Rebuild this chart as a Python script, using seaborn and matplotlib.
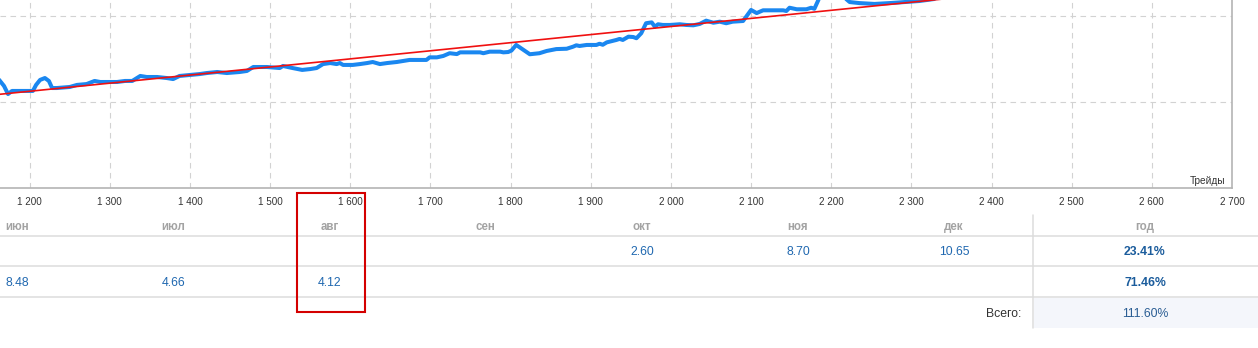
import matplotlib
matplotlib.use("Agg")
import matplotlib.pyplot as plt
import seaborn as sns
import pandas as pd
from matplotlib.lines import Line2D
from matplotlib.patches import Rectangle
from matplotlib.ticker import FuncFormatter

# ---------------- data ----------------
trades = [1157, 1163, 1168, 1173, 1178, 1188, 1204, 1208, 1213, 1219, 1224, 1228, 1234, 1250,
          1259, 1271, 1281, 1288, 1309, 1319, 1328, 1338, 1346, 1359, 1371, 1379, 1387, 1400,
          1412, 1421, 1434, 1446, 1462, 1471, 1479, 1496, 1512, 1516, 1528, 1540, 1550, 1558,
          1566, 1575, 1583, 1587, 1591, 1603, 1612, 1621, 1628, 1637, 1646, 1658, 1666, 1674,
          1687, 1695, 1699, 1708, 1716, 1724, 1733, 1737, 1762, 1766, 1774, 1787, 1791, 1797,
          1801, 1807, 1816, 1824, 1836, 1845, 1857, 1870, 1878, 1882, 1886, 1895, 1907, 1911,
          1915, 1920, 1932, 1936, 1940, 1947, 1953, 1957, 1963, 1969, 1976, 1980, 1984, 1990,
          1999, 2011, 2019, 2028, 2036, 2044, 2053, 2061, 2069, 2077, 2090, 2100, 2107, 2115,
          2140, 2144, 2148, 2157, 2169, 2175, 2179, 2184, 2188, 2204, 2217, 2223, 2235, 2254,
          2273, 2292, 2310, 2329, 2348, 2385, 2410, 2429, 2448, 2472]
balance = [65.8, 62.3, 59.4, 54.7, 56.5, 56.5, 56.5, 60.0, 62.9, 64.0, 62.3, 58.2, 58.2, 58.8,
           60.0, 60.5, 62.3, 61.7, 61.7, 62.3, 62.3, 65.2, 64.6, 64.6, 64.0, 63.4, 65.2, 65.8,
           66.3, 66.9, 67.5, 66.9, 67.5, 68.1, 70.4, 70.4, 69.8, 71.0, 69.8, 68.7, 69.2, 69.8,
           72.1, 72.7, 72.1, 72.7, 71.6, 71.6, 72.1, 72.7, 73.3, 72.1, 72.7, 73.3, 73.9, 74.5,
           74.5, 74.5, 76.0, 76.0, 76.8, 78.4, 77.9, 78.9, 78.9, 78.4, 79.3, 79.3, 78.9, 79.1,
           79.9, 83.2, 80.3, 77.8, 78.4, 79.7, 80.8, 81.0, 82.2, 83.0, 82.6, 83.2, 83.2, 83.9,
           83.3, 84.7, 86.1, 86.7, 86.1, 88.0, 87.8, 87.1, 90.0, 95.8, 96.3, 93.8, 95.2, 94.8,
           94.8, 95.2, 94.8, 94.6, 95.4, 97.3, 96.1, 96.7, 95.8, 96.7, 97.1, 103.5, 101.7, 103.3,
           103.3, 102.9, 104.8, 103.9, 103.9, 104.8, 104.2, 109.3, 118.0, 119.7, 110.5, 108.1,
           107.5, 107.0, 107.5, 108.1, 108.7, 109.9, 116.3, 117.4, 113.9, 111.0, 117.4, 122.1]
trend_trades = [1157, 2485]
trend_values = [54.3, 116.7]
x_ticks = list(range(1200, 2701, 100))
y_grid = [0, 50, 100, 150]
x_label = "Трейды"

months = ["июн", "июл", "авг", "сен", "окт", "ноя", "дек"]
row1_values = ["", "", "", "", "2.60", "8.70", "10.65"]
row2_values = ["8.48", "4.66", "4.12", "", "", "", ""]
year_header = "год"
year_values = ["23.41%", "71.46%"]
total_label = "Всего:"
total_value = "111.60%"

# ---------------- style ----------------
sns.set_theme(style="white")
plt.rcParams['font.family'] = ['Liberation Sans', 'DejaVu Sans']

W, H = 1258, 348
fig = plt.figure(figsize=(W / 100, H / 100), dpi=100)


def fx(x):
    return x / W


def fy(y):
    return 1 - y / H


ax_right = 1232.0
ax_bottom = 188.3
ax_top = -70.15
ax = fig.add_axes([0, fy(ax_bottom), fx(ax_right), (ax_bottom - ax_top) / H])

df = pd.DataFrame({"trade": trades, "balance": balance})
tr = pd.DataFrame({"trade": trend_trades, "value": trend_values})
sns.lineplot(data=df, x="trade", y="balance", ax=ax, color="#1a87f0", linewidth=2.9,
             sort=False, estimator=None, zorder=3, solid_joinstyle="round")
sns.lineplot(data=tr, x="trade", y="value", ax=ax, color="#f01010", linewidth=1.2,
             sort=False, estimator=None, zorder=4)

ax.set_xlim(1163, 2700)
ax.set_ylim(0, 150)
ax.set_xticks(x_ticks)
ax.set_yticks(y_grid)
ax.xaxis.set_major_formatter(FuncFormatter(lambda v, p: f"{int(v):,}".replace(",", " ")))
ax.tick_params(axis="x", length=0, pad=6.3, labelsize=7.1, labelcolor="#333333")
ax.tick_params(axis="y", length=0, labelleft=False)
ax.set_xlabel("")
ax.set_ylabel("")
ax.grid(True, color="#d2d2d2", linestyle=(0, (5, 4)), linewidth=0.8)
ax.set_axisbelow(True)
for s in ["left", "top"]:
    ax.spines[s].set_visible(False)
for s in ["bottom", "right"]:
    ax.spines[s].set_color("#b4b4b4")
    ax.spines[s].set_linewidth(1.2)

fig.text(fx(1225), fy(180), x_label, ha="right", va="center_baseline", fontsize=7.3,
         color="#333333")

# ---------------- table ----------------
for yy in [235.7, 266.3, 297.3]:
    fig.add_artist(Line2D([0, 1], [fy(yy), fy(yy)], transform=fig.transFigure,
                          color="#dcdcdc", linewidth=1.1))
fig.add_artist(Rectangle((fx(1033.5), fy(327.7)), fx(W - 1033.5), (327.7 - 297.9) / H,
                         transform=fig.transFigure, facecolor="#f4f6fb", edgecolor="none",
                         zorder=0))
fig.add_artist(Line2D([fx(1032.7)] * 2, [fy(215), fy(327.7)], transform=fig.transFigure,
                      color="#dcdcdc", linewidth=1.1))

col0, step = 17.5, 156.1
for i, m in enumerate(months):
    cx = fx(col0 + step * i)
    fig.text(cx, fy(225.7), m, ha="center", va="center_baseline", fontsize=8.3,
             color="#a3a3a3", weight="bold")
    if row1_values[i]:
        fig.text(cx, fy(250.7), row1_values[i], ha="center", va="center_baseline",
                 fontsize=8.8, color="#2068b0")
    if row2_values[i]:
        fig.text(cx, fy(281.7), row2_values[i], ha="center", va="center_baseline",
                 fontsize=8.8, color="#2068b0")

fig.text(fx(1145), fy(225.7), year_header, ha="center", va="center_baseline", fontsize=8.3,
         color="#a3a3a3", weight="bold")
for yy, v in zip([250.7, 281.7], year_values):
    fig.text(fx(1145), fy(yy), v, ha="center", va="center_baseline", fontsize=8.8,
             color="#1b5c9c", weight="bold")
fig.text(fx(1021), fy(312.7), total_label, ha="right", va="center_baseline", fontsize=8.8,
         color="#333333")
fig.text(fx(1145), fy(312.7), total_value, ha="center", va="center_baseline", fontsize=8.8,
         color="#2a5d93")

# red highlight box
fig.add_artist(Rectangle((fx(296.7), fy(312)), fx(68), (312 - 193.3) / H,
                         transform=fig.transFigure, fill=False, edgecolor="#d40000",
                         linewidth=1.5, zorder=10))

fig.savefig("out.png", dpi=100)
